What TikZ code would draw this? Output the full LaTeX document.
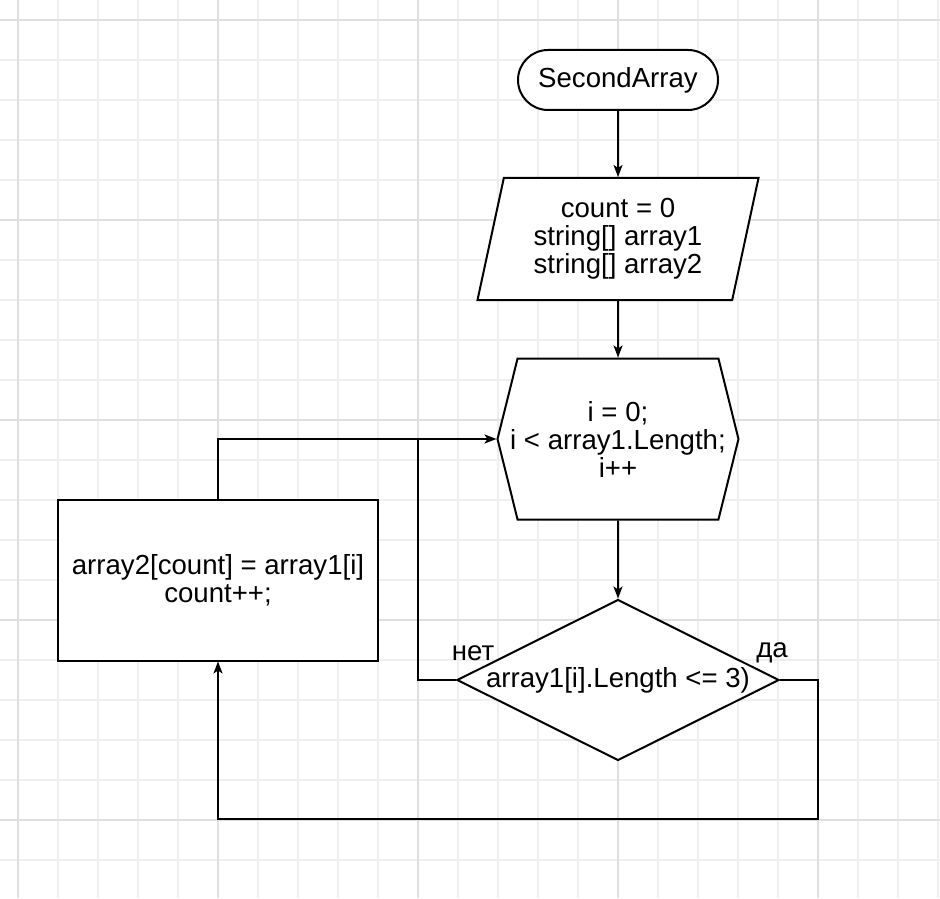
\documentclass[tikz,border=0pt]{standalone}
\usepackage{fontspec}
\setmainfont{Liberation Sans}
\usetikzlibrary{shapes.geometric,shapes.misc,shapes.symbols,arrows.meta}
\definecolor{gridminor}{HTML}{EFEFEF}
\definecolor{gridmajor}{HTML}{DFDFDF}
\begin{document}
\begin{tikzpicture}[x=0.5pt, y=-0.5pt,
  every node/.style={font=\fontsize{13.8}{14}\selectfont, align=center, line width=1pt},
  blk/.style={draw, fill=white, inner sep=0pt},
  flow/.style={line width=1pt, -{Stealth[length=6pt, width=4.5pt, inset=1.5pt]}},
  wire/.style={line width=1pt}]
\useasboundingbox (0,0) rectangle (940,898);
\fill[white] (0,0) rectangle (940,898);
\foreach \gx in {18,58,...,938} \draw[gridminor, line width=1pt] (\gx,0) -- (\gx,898);
\foreach \gy in {20,60,...,898} \draw[gridminor, line width=1pt] (0,\gy) -- (940,\gy);
\foreach \gx in {18,218,...,938} \draw[gridmajor, line width=1pt] (\gx,0) -- (\gx,898);
\foreach \gy in {20,220,...,898} \draw[gridmajor, line width=1pt] (0,\gy) -- (940,\gy);
\node[blk, rounded rectangle, minimum width=100pt, minimum height=30pt] (start) at (618,80) {SecondArray};
\node[blk, trapezium, trapezium left angle=72, trapezium right angle=108, trapezium stretches body, minimum width=140.5pt, minimum height=61pt] (input) at (618,239) {count = 0\\string[] array1\\string[] array2};
\node[blk, signal, signal to=west and east, signal pointer angle=152, inner xsep=-6pt, minimum width=120.5pt, minimum height=80.5pt] (loop) at (618,439) {i = 0;\\i < array1.Length;\\i++};
\node[blk, diamond, aspect=2, minimum width=161pt, minimum height=80.5pt] (cond) at (618,680) {array1[i].Length <= 3)};
\node[blk, rectangle, minimum width=160pt, minimum height=80.5pt] (body) at (218,580) {array2[count] = array1[i]\\count++;};
\node (no) at (473,653) {нет};
\node (yes) at (772,653) {да};
\coordinate (nojoin) at (418,439);
\coordinate (yesturn) at (818,819);
\draw[flow] (start) -- (input);
\draw[flow] (input) -- (loop);
\draw[flow] (loop) -- (cond);
\draw[flow] (cond.west) -| (nojoin) -- (loop.west);
\draw[wire] (body.north) |- (nojoin);
\draw[flow] (cond.east) -| (yesturn) -| (body.south);
\end{tikzpicture}
\end{document}
